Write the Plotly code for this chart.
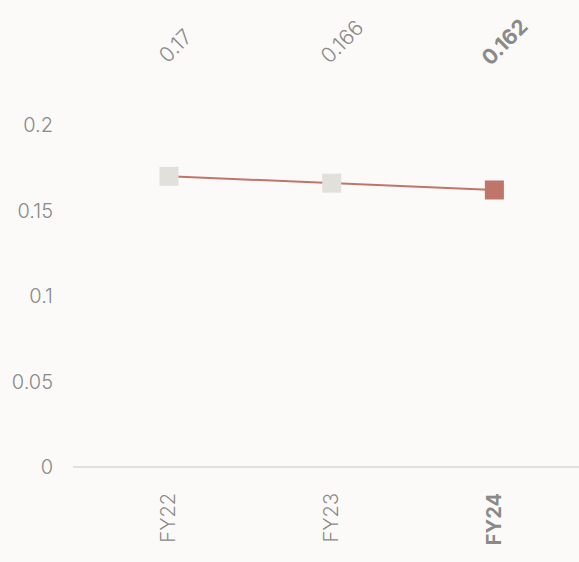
import plotly.graph_objects as go

categories = ["FY22", "FY23", "FY24"]
values = [0.170, 0.166, 0.162]
value_labels = ["0.17", "0.166", "0.162"]
y_ticks = [0, 0.05, 0.1, 0.15, 0.2]
y_tick_labels = ["0", "0.05", "0.1", "0.15", "0.2"]

GREY_MARK = "#e2e0db"
RED = "#c0756a"
TXT = "#8a8a8a"
BG = "#fbfaf8"
FONT = "Inter"
FS = 20
FS_TOP = 21

marker_colors = [GREY_MARK] * (len(values) - 1) + [RED]
xpos = list(range(len(categories)))

fig = go.Figure()
fig.add_trace(go.Scatter(
    x=xpos, y=values, mode="lines+markers",
    line=dict(color=RED, width=2),
    marker=dict(symbol="square", size=19, color=marker_colors, line=dict(width=0)),
    hoverinfo="skip", showlegend=False,
))

for i, (lab, v) in enumerate(zip(value_labels, values)):
    last = i == len(values) - 1
    w = len(lab) * 11.0
    d = w / 2 * 0.707
    fig.add_annotation(
        x=xpos[i], y=1, xref="x", yref="paper",
        text=f"<b>{lab}</b>" if last else lab,
        textangle=-45, showarrow=False,
        xanchor="center", yanchor="middle",
        xshift=-9 + d, yshift=64 + d,
        font=dict(family=FONT, size=FS_TOP, color=TXT, weight=300 if not last else 700),
    )

ticktext = [f"<b>{c}</b>" if i == len(categories) - 1 else c for i, c in enumerate(categories)]

fig.update_layout(
    width=579, height=562,
    margin=dict(l=73, r=0, t=125, b=95),
    paper_bgcolor=BG, plot_bgcolor=BG,
    font=dict(family=FONT, size=FS, color=TXT, weight=300),
    xaxis=dict(
        range=[-0.59, 2.52], tickvals=xpos, ticktext=ticktext,
        tickangle=-90, showgrid=False, zeroline=False, showline=False,
        ticks="", ticklabelstandoff=21,
        tickfont=dict(family=FONT, size=FS, color=TXT, weight=300),
    ),
    yaxis=dict(
        range=[0, 0.2], tickvals=y_ticks, ticktext=y_tick_labels,
        showgrid=False, zeroline=True, zerolinecolor="#e2e0db", zerolinewidth=1.5,
        showline=False, ticks="", ticklabelstandoff=19,
        tickfont=dict(family=FONT, size=FS, color=TXT, weight=300),
    ),
)

fig.write_html("out.html", config={"displayModeBar": False})

with open("out.html", "r", encoding="utf-8") as f:
    html = f.read()
html = html.replace("<head>", "<head><style>html,body{margin:0;padding:0;background:%s;}</style>" % BG, 1)
with open("out.html", "w", encoding="utf-8") as f:
    f.write(html)
